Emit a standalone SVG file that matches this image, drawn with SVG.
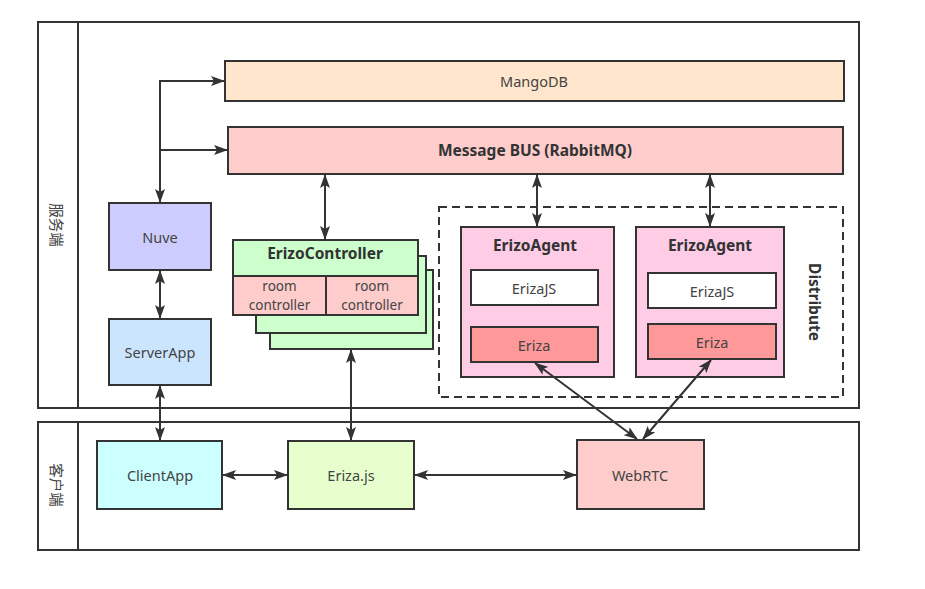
<svg xmlns="http://www.w3.org/2000/svg" width="925" height="589" viewBox="0 0 925 589">
<defs>
<marker id="ah" viewBox="0 0 14 10" refX="13" refY="5" markerWidth="14" markerHeight="10" markerUnits="userSpaceOnUse" orient="auto-start-reverse">
<path d="M0,0 L14,5 L0,10 L3,5 Z" fill="#333"/>
</marker>
<style>
.b{stroke:#333;stroke-width:2}
.t{font-family:"Noto Sans","Open Sans","Noto Sans CJK SC",sans-serif;font-size:14.5px;fill:#444;text-anchor:middle;dominant-baseline:central}
.bd{font-weight:bold;fill:#333;font-size:15.5px}
.sm{font-size:13.5px}
.c{fill:none;stroke:#333;stroke-width:2;marker-start:url(#ah);marker-end:url(#ah)}
.one{fill:none;stroke:#333;stroke-width:2;marker-end:url(#ah)}
</style>
</defs>
<rect width="925" height="589" fill="#fff"/>

<g id="server-lane">
<rect x="38" y="22" width="821" height="386" fill="none" class="b"/>
<line x1="78" y1="22" x2="78" y2="408" class="b"/>
<text class="t" transform="translate(57,225) rotate(90)">服务端</text>
</g>
<g id="client-lane">
<rect x="38" y="422" width="821" height="128" fill="none" class="b"/>
<line x1="78" y1="422" x2="78" y2="550" class="b"/>
<text class="t" transform="translate(57,485) rotate(90)">客户端</text>
</g>

<g id="distribute">
<rect x="439" y="207" width="404" height="190" fill="none" stroke="#333" stroke-width="2" stroke-dasharray="8,5"/>
<text class="t bd" transform="translate(815,302) rotate(90)">Distribute</text>
</g>

<g id="mangodb">
<rect x="225" y="61" width="619" height="40" fill="#FFE6CC" class="b"/>
<text class="t" x="534" y="81">MangoDB</text>
</g>
<g id="messagebus">
<rect x="228" y="127" width="615" height="47" fill="#FFCCCC" class="b"/>
<text class="t bd" x="535" y="150">Message BUS (RabbitMQ)</text>
</g>
<g id="nuve">
<rect x="109" y="203" width="102" height="67" fill="#CCCCFF" class="b"/>
<text class="t" x="160" y="237">Nuve</text>
</g>
<g id="serverapp">
<rect x="109" y="319" width="102" height="66" fill="#CCE5FF" class="b"/>
<text class="t" x="160" y="352">ServerApp</text>
</g>

<g id="erizocontroller">
<rect x="270" y="270" width="163" height="79" fill="#CCFFCC" class="b"/>
<rect x="256" y="256" width="170" height="77" fill="#CCFFCC" class="b"/>
<rect x="233" y="240" width="185" height="36" fill="#CCFFCC" class="b"/>
<text class="t bd" x="325" y="253">ErizoController</text>
<rect x="233" y="276" width="93" height="39" fill="#FFCCCC" class="b"/>
<rect x="326" y="276" width="92" height="39" fill="#FFCCCC" class="b"/>
<text class="t sm" x="279.5" y="286">room</text>
<text class="t sm" x="279.5" y="305">controller</text>
<text class="t sm" x="372" y="286">room</text>
<text class="t sm" x="372" y="305">controller</text>
</g>

<g id="erizoagent1">
<rect x="461" y="227" width="153" height="150" fill="#FFCCE6" class="b"/>
<text class="t bd" x="535" y="245">ErizoAgent</text>
<rect x="471" y="270" width="127" height="35" fill="#FFFFFF" class="b"/>
<text class="t" x="534" y="288">ErizaJS</text>
<rect x="471" y="327" width="127" height="35" fill="#FF9999" class="b"/>
<text class="t" x="534" y="345">Eriza</text>
</g>
<g id="erizoagent2">
<rect x="636" y="227" width="148" height="150" fill="#FFCCE6" class="b"/>
<text class="t bd" x="710" y="245">ErizoAgent</text>
<rect x="648" y="273" width="128" height="35" fill="#FFFFFF" class="b"/>
<text class="t" x="712" y="291">ErizaJS</text>
<rect x="648" y="324" width="128" height="35" fill="#FF9999" class="b"/>
<text class="t" x="712" y="342">Eriza</text>
</g>

<g id="clientapp">
<rect x="97" y="441" width="125" height="68" fill="#CCFFFF" class="b"/>
<text class="t" x="160" y="475">ClientApp</text>
</g>
<g id="erizajs">
<rect x="288" y="441" width="126" height="68" fill="#E6FFCC" class="b"/>
<text class="t" x="351" y="475">Eriza.js</text>
</g>
<g id="webrtc">
<rect x="577" y="440" width="127" height="69" fill="#FFCCCC" class="b"/>
<text class="t" x="640" y="475">WebRTC</text>
</g>

<g id="connectors">
<path class="c" d="M224,81 L160,81 L160,202"/>
<path class="one" d="M160,150 L227,150"/>
<path class="c" d="M160,271 L160,318"/>
<path class="c" d="M160,386 L160,440"/>
<path class="c" d="M325,175 L325,239"/>
<path class="c" d="M537,175 L537,226"/>
<path class="c" d="M710,175 L710,226"/>
<path class="c" d="M351,350 L351,440"/>
<path class="c" d="M223,475 L287,475"/>
<path class="c" d="M415,475 L576,475"/>
<path class="c" d="M637,439 L535,363"/>
<path class="c" d="M643,439 L711,360"/>
</g>
</svg>
